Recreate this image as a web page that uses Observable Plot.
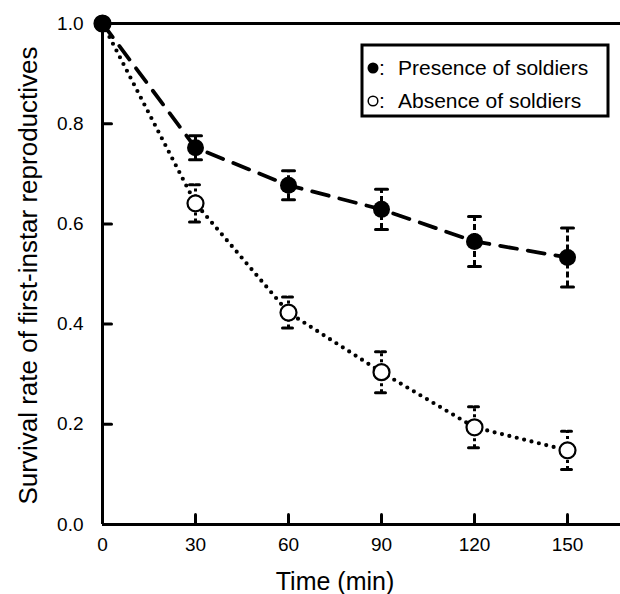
<!DOCTYPE html>
<html>
<head>
<meta charset="utf-8">
<script src="https://cdn.jsdelivr.net/npm/d3@7"></script>
<script src="https://cdn.jsdelivr.net/npm/@observablehq/plot@0.6"></script>
<style>
  html, body { margin: 0; padding: 0; background: #fff; }
  #chart svg { display: block; }
</style>
</head>
<body>
<div id="chart"></div>
<script>
// ---- data ----
const times = [0, 30, 60, 90, 120, 150];
const presence = [1.0, 0.752, 0.677, 0.629, 0.565, 0.533];
const presenceSE = [null, 0.024, 0.029, 0.040, 0.050, 0.059];
const absence = [1.0, 0.641, 0.423, 0.304, 0.194, 0.148];
const absenceSE = [null, 0.037, 0.031, 0.041, 0.041, 0.038];
const xTicks = [0, 30, 60, 90, 120, 150];
const yTicks = [0, 0.2, 0.4, 0.6, 0.8, 1.0];
const legendLabels = ["Presence of soldiers", "Absence of soldiers"];
const xLabel = "Time (min)";
const yLabel = "Survival rate of first-instar reproductives";

const pres = times.map((t, i) => ({t, v: presence[i], se: presenceSE[i]}));
const abs = times.map((t, i) => ({t, v: absence[i], se: absenceSE[i]}));
const presErr = pres.filter(d => d.se != null);
const absErr = abs.filter(d => d.se != null);

const W = 620, H = 594;
const mL = 102, mT = 23, mB = 70, mR = 0;
// x extent continues past the right edge of the picture
const xMax = (W - mL) / 93 * 30;

const line = {draw(context, l) { context.moveTo(0, 0); context.lineTo(0, -l); }};
const font = "Liberation Sans, Arial, Helvetica, sans-serif";

const chart = Plot.plot({
  width: W,
  height: H,
  marginLeft: mL,
  marginRight: mR,
  marginTop: mT,
  marginBottom: mB,
  style: {fontFamily: font, background: "white", overflow: "visible"},
  x: {domain: [0, xMax]},
  y: {domain: [0, 1]},
  marks: [
    // frame lines
    Plot.ruleY([0, 1], {stroke: "black", strokeWidth: 3}),
    Plot.ruleX([0], {y1: 0, y2: 1, stroke: "black", strokeWidth: 3}),
    // inward ticks
    Plot.vector(xTicks.slice(1), {x: d => d, y: () => 0, length: 10, rotate: 0, anchor: "start", shape: line, stroke: "black", strokeWidth: 3}),
    Plot.vector(yTicks.slice(1, -1), {x: () => 0, y: d => d, length: 9, rotate: 90, anchor: "start", shape: line, stroke: "black", strokeWidth: 3}),
    // axes labels
    Plot.axisX({ticks: xTicks, tickSize: 0, tickPadding: 13, fontSize: 19, label: null, tickFormat: d => d}),
    Plot.axisY({ticks: yTicks, tickSize: 0, tickPadding: 19, fontSize: 19, label: null, tickFormat: d3.format(".1f")}),
    Plot.text([xLabel], {x: () => d3.mean(d3.extent(xTicks)), frameAnchor: "bottom", dy: 57, lineAnchor: "middle", textAnchor: "middle", fontSize: 25, text: d => d}),
    Plot.text([yLabel], {frameAnchor: "left", dx: -74, dy: 1.5, rotate: -90, lineAnchor: "middle", textAnchor: "middle", fontSize: 26, text: d => d}),
    // connecting lines
    Plot.line(abs, {x: "t", y: "v", stroke: "black", strokeWidth: 4.2, strokeDasharray: "0,7.6", strokeLinecap: "round"}),
    Plot.line(pres, {x: "t", y: "v", stroke: "black", strokeWidth: 3.8, strokeDasharray: "17,11"}),
    // error bars
    Plot.ruleX(absErr, {x: "t", y1: d => d.v - d.se, y2: d => d.v + d.se, stroke: "black", strokeWidth: 3, strokeDasharray: "3,3"}),
    Plot.vector(absErr, {x: "t", y: d => d.v - d.se, length: 12, rotate: 90, anchor: "middle", shape: line, stroke: "black", strokeWidth: 3, strokeDasharray: "4,2"}),
    Plot.vector(absErr, {x: "t", y: d => d.v + d.se, length: 12, rotate: 90, anchor: "middle", shape: line, stroke: "black", strokeWidth: 3, strokeDasharray: "4,2"}),
    Plot.ruleX(presErr, {x: "t", y1: d => d.v - d.se, y2: d => d.v + d.se, stroke: "black", strokeWidth: 3, strokeDasharray: "6,3"}),
    Plot.vector(presErr, {x: "t", y: d => d.v - d.se, length: 12, rotate: 90, anchor: "middle", shape: line, stroke: "black", strokeWidth: 3}),
    Plot.vector(presErr, {x: "t", y: d => d.v + d.se, length: 12, rotate: 90, anchor: "middle", shape: line, stroke: "black", strokeWidth: 3}),
    // points
    Plot.dot(abs, {x: "t", y: "v", r: 8, fill: "white", stroke: "black", strokeWidth: 2.2}),
    Plot.dot(pres, {x: "t", y: "v", r: 8.5, fill: "black", stroke: "black", strokeWidth: 0})
  ]
});

document.getElementById("chart").appendChild(chart);

// legend box inside the plot (top right)
const svg = d3.select(chart);
const lg = svg.append("g").attr("font-family", font).attr("font-size", 21)
  .attr("fill", "black").attr("text-anchor", "start");
lg.append("rect").attr("x", 362).attr("y", 45).attr("width", 246).attr("height", 71)
  .attr("fill", "white").attr("stroke", "black").attr("stroke-width", 3);
const rows = [
  {label: legendLabels[0], fill: "black", r: 5.5, cy: 68, base: 75},
  {label: legendLabels[1], fill: "white", r: 4.8, cy: 101, base: 108}
];
rows.forEach(d => {
  lg.append("circle").attr("cx", 373).attr("cy", d.cy).attr("r", d.r)
    .attr("fill", d.fill).attr("stroke", "black").attr("stroke-width", d.fill === "white" ? 1.5 : 0);
  lg.append("text").attr("x", 379).attr("y", d.base).attr("text-anchor", "start").text(":");
  lg.append("text").attr("x", 398).attr("y", d.base).attr("text-anchor", "start").text(d.label);
});
</script>
</body>
</html>
